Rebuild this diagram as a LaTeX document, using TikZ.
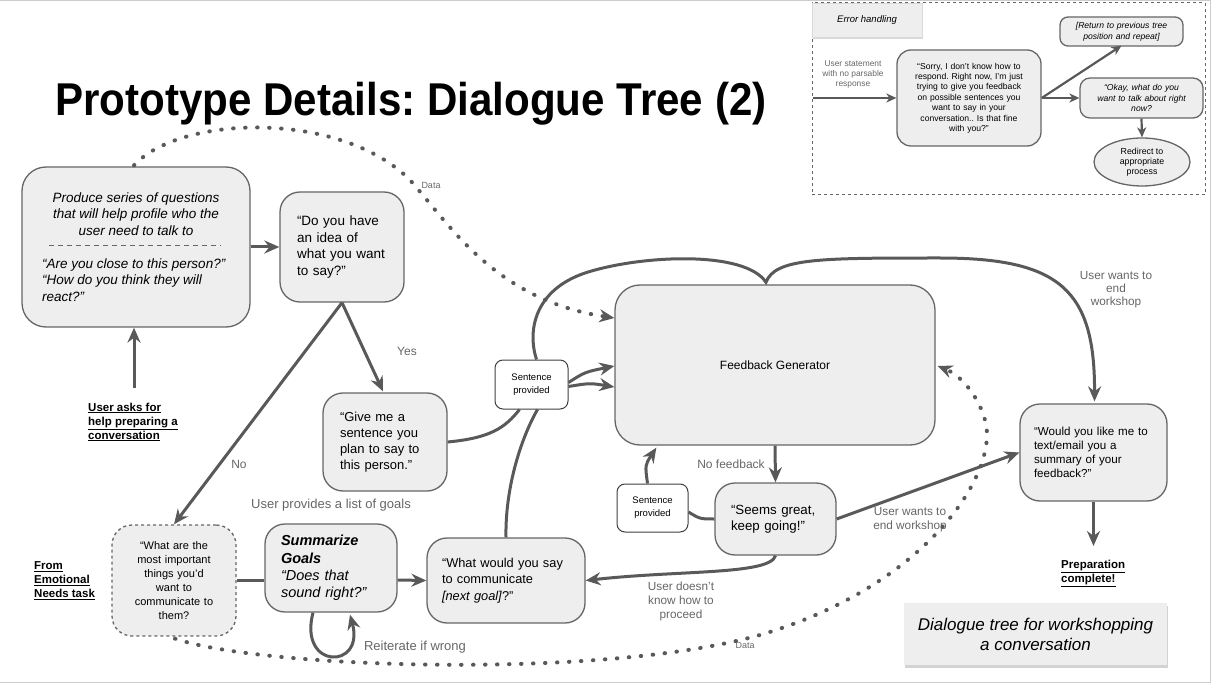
\documentclass[tikz,border=0pt]{standalone}
\usepackage{graphicx}
\usepackage{fontspec}
\setmainfont{Liberation Sans}
\usetikzlibrary{arrows.meta,calc,shapes.geometric,shadows}
\definecolor{boxc}{HTML}{EEEEEE}
\definecolor{bordc}{HTML}{666666}
\definecolor{linec}{HTML}{595959}
\definecolor{labc}{HTML}{666666}
\definecolor{framec}{HTML}{CCCCCC}
\newcommand{\fsz}[2]{\fontsize{#1}{#2}\selectfont}
\frenchspacing
\begin{document}
\begin{tikzpicture}[x=1pt,y=-1pt,
  box/.style={draw=bordc, fill=boxc, line width=1.3pt, rounded corners=20pt, inner ysep=0pt, align=left},
  sbox/.style={draw=black!75, fill=white, line width=1pt, rounded corners=8pt, inner sep=0pt, align=center, font=\fsz{9.5}{13}},
  conn/.style={draw=linec, line width=3pt, -{Stealth[length=15pt,width=13pt,inset=5pt]}},
  sconn/.style={draw=linec, line width=2.2pt, -{Stealth[length=10pt,width=9pt,inset=3pt]}},
  plainline/.style={draw=linec, line width=3pt},
  dots/.style={draw=linec, line width=4pt, line cap=round, dash pattern=on 0.5pt off 11.5pt, -{Stealth[length=15pt,width=13pt,inset=5pt]}},
  glabel/.style={text=labc, align=center, inner sep=1pt},
  ulabel/.style={font=\bfseries\fsz{11.5}{14}, align=left, inner sep=0pt, anchor=west},
]
\useasboundingbox (0,0) rectangle (1212,684);
\draw[framec, line width=1pt] (0,1) -- (1210,1) -- (1210,682) -- (0,682);

% title
\node (title) at (411,104) {\scalebox{0.915}[1]{\bfseries\fsz{46}{46}Prototype Details: Dialogue Tree (2)}};

% error handling panel
\node[draw=bordc, dashed, line width=1pt, minimum width=393pt, minimum height=192pt, inner sep=0pt] (errframe) at (1008.5,99) {};
\node[fill=boxc, draw=black!15, line width=0.5pt, drop shadow={shadow xshift=1pt, shadow yshift=-2pt, opacity=0.3}, minimum width=110pt, minimum height=34pt, inner sep=0pt, font=\itshape\fsz{9.5}{11}] (ehlabel) at (867,20) {Error handling};
\node[glabel, font=\fsz{8.4}{10}] (ustate) at (853,74) {User statement\\with no parsable\\response};
\coordinate (ehstart) at (813,98);
\node[box, rounded corners=14pt, minimum width=144pt, minimum height=96pt, text width=134pt, inner xsep=5pt, align=center, font=\fsz{8.6}{10.4}] (sorry) at (969,98) {“Sorry, I don't know how to\\respond. Right now, I'm just\\trying to give you feedback\\on possible sentences you\\want to say in your\\conversation.. Is that fine\\with you?”};
\node[box, rounded corners=8pt, minimum width=123pt, minimum height=29pt, text width=115pt, inner xsep=4pt, align=center, font=\itshape\fsz{8.6}{11}] (return) at (1121.5,31.5) {[Return to previous tree\\position and repeat]};
\node[box, rounded corners=10pt, minimum width=123pt, minimum height=40pt, text width=115pt, inner xsep=4pt, align=center, font=\itshape\fsz{8.6}{10.5}] (okay) at (1141.5,98) {“Okay, what do you\\want to talk about right\\now?};
\node[ellipse, draw=bordc, fill=boxc, line width=1.3pt, minimum width=96pt, minimum height=48pt, inner sep=0pt, align=center, font=\fsz{8.8}{10}] (redirect) at (1142,162) {Redirect to\\appropriate\\process};
\draw[sconn] (ehstart) -- (sorry.west);
\draw[sconn] (sorry.east) -- ($(return.south)+(0,-1)$);
\draw[sconn] (sorry.east) -- (okay.west);
\draw[sconn] (okay.south) -- (redirect.north);

% main boxes
\node[box, rounded corners=24pt, minimum width=228pt, minimum height=160pt] (prod) at (136,247) {};
\node[align=center, inner sep=0pt, font=\itshape\fsz{13.5}{16.5}] (prodA) at (136,214) {Produce series of questions\\that will help profile who the\\user need to talk to};
\node[align=left, inner sep=0pt, anchor=west, font=\itshape\fsz{13.5}{16.5}] (prodB) at (42,280) {“Are you close to this person?”\\“How do you think they will\\react?”};
\draw[bordc, line width=1pt, dash pattern=on 5pt off 4pt] ($(prod.west)+(28,-1)$) -- ($(prod.east)+(-30,-1)$);

\node[box, minimum width=124pt, minimum height=110pt, text width=90pt, inner xsep=17pt, font=\fsz{13.5}{16.5}] (idea) at (342,247) {“Do you have\\an idea of\\what you want\\to say?”};
\node[box, minimum width=124pt, minimum height=98pt, text width=90pt, inner xsep=17pt, font=\fsz{13}{16}] (give) at (385,442) {“Give me a\\sentence you\\plan to say to\\this person.”};
\node[box, dashed, minimum width=124pt, minimum height=111pt, text width=110pt, inner xsep=7pt, align=center, font=\fsz{11}{14}] (whatare) at (174,580.5) {“What are the\\most important\\things you’d\\want to\\communicate to\\them?};
\node[box, minimum width=132pt, minimum height=88pt, text width=100pt, inner xsep=16pt, font=\fsz{14.5}{17.3}] (summ) at (331,568) {\textbf{\textit{Summarize}}\\\textbf{\textit{Goals}}\\\textit{“Does that}\\\textit{sound right?”}};
\node[box, minimum width=158pt, minimum height=85pt, text width=128pt, inner xsep=15pt, font=\fsz{12.8}{16.5}] (whatsay) at (506,580.5) {“What would you say\\to communicate\\\textit{[next goal]}?”};
\node[sbox, minimum width=73pt, minimum height=49pt] (sp1) at (531.5,384.5) {Sentence\\provided};
\node[box, rounded corners=25pt, minimum width=320pt, minimum height=160pt, align=center, font=\fsz{12}{14}] (FG) at (775,365) {Feedback Generator};
\node[box, minimum width=121pt, minimum height=72pt, text width=89pt, inner xsep=16pt, font=\fsz{13.3}{16}] (seems) at (775.5,519) {“Seems great,\\keep going!”};
\node[sbox, minimum width=71pt, minimum height=48pt] (sp2) at (652.5,508) {Sentence\\provided};
\node[box, minimum width=147pt, minimum height=97pt, text width=119pt, inner xsep=14pt, font=\fsz{11.6}{14}] (wouldyou) at (1093.5,452.5) {“Would you like me to\\text/email you a\\summary of your\\feedback?”};
\node[fill=boxc, drop shadow={shadow xshift=1pt, shadow yshift=-3pt, opacity=0.35}, minimum width=263pt, minimum height=62pt, align=center, inner sep=0pt, font=\itshape\fsz{17}{20}] (caption) at (1035.5,634) {Dialogue tree for workshopping\\a conversation};

% underlined labels
\node[ulabel] (userask) at (88,422) {\underline{User asks for}\\\underline{help preparing a}\\\underline{conversation}};
\node[ulabel] (fromemo) at (34,581) {\underline{From}\\\underline{Emotional}\\\underline{Needs task}};
\node[ulabel] (prep) at (1061,573.5) {\underline{Preparation}\\\underline{complete!}};

% grey labels
\node[glabel, font=\fsz{12}{14}] (yes) at (407,351) {Yes};
\node[glabel, font=\fsz{12}{14}] (no) at (239,464) {No};
\node[glabel, font=\fsz{13}{15}] (goals) at (331,505) {User provides a list of goals};
\node[glabel, font=\fsz{13}{15}] (reit) at (415,647) {Reiterate if wrong};
\node[glabel, font=\fsz{12}{14}] (nofb) at (731,464) {No feedback};
\node[glabel, font=\fsz{11.8}{14}] (endw1) at (910,520) {User wants to\\end workshop};
\node[glabel, font=\fsz{11.8}{14}] (dunno) at (681,601) {User doesn’t\\know how to\\proceed};
\node[glabel, font=\fsz{11.8}{13}] (endw2) at (1116,290) {User wants to\\end\\workshop};
\node[glabel, font=\fsz{9}{10}] (data1) at (431,185) {Data};
\node[glabel, font=\fsz{9}{10}] (data2) at (745,645) {Data};

% connectors
\coordinate (askstart) at (134,388);
\draw[conn] (askstart) -- (askstart |- prod.south);
\draw[conn] (prod.east) -- (idea.west);
\draw[conn] (idea.south) -- ($(give.north)+(-2,-1)$);
\draw[conn] (idea.south) -- (whatare.north);
\draw[plainline] (whatare.east |- 0,580) -- (summ.west |- 0,580);
\draw[conn] (summ.east |- 0,580) -- (whatsay.west);
\draw[conn] ($(summ.south)+(-18,0)$) .. controls (298,670) and (365,670) .. ($(summ.south)+(19,2)$);
\draw[plainline] (give.east) .. controls (490,438) and (505,428) .. ($(sp1.south west)+(25,0)$);
\draw[plainline] (whatsay.north) .. controls (505,490) and (520,440) .. ($(sp1.south)+(6,0)$);
\draw[conn] ($(sp1.east)+(0,-2)$) .. controls (585,372) .. ($(FG.west)+(0,1)$);
\draw[conn] ($(sp1.east)+(0,2)$) .. controls (590,383) .. ($(FG.west)+(0,22)$);
\draw[conn] ($(sp1.north)+(5,0)$) .. controls (527,330) and (535,290) .. (585,273) .. controls (640,255) and (745,250) .. ($(FG.north)+(-9,-2)$) .. controls (775,258) and (820,258) .. (940,258) .. controls (1060,258) and (1095,290) .. ($(wouldyou.north)+(1,-2)$);
\draw[conn] (FG.south) -- (seems.north);
\draw[plainline] (seems.west) .. controls (700,519) .. ($(sp2.east)+(0,4)$);
\draw[conn] ($(sp2.north)+(-5,0)$) .. controls (645,465) .. ($(FG.south west)+(42,2)$);
\draw[conn] (seems.east) -- (wouldyou.west);
\draw[conn] (seems.south) .. controls (770,575) and (680,570) .. (whatsay.east);
\coordinate (prepTop) at (1093.5,546);
\draw[conn] (wouldyou.south) -- (prepTop);

% dotted data flows
\draw[dots] ($(prod.north)+(-2,-1)$) .. controls (180,115) and (340,110) .. (410,180) .. controls (450,225) and (495,300) .. ($(FG.west)+(0,-47)$);
\draw[dots] ($(whatare.south)+(1,2)$) .. controls (260,668) and (600,680) .. (760,635) .. controls (930,585) and (1000,470) .. (985,420) .. controls (978,395) and (960,375) .. ($(FG.east)+(2,1)$);
\end{tikzpicture}
\end{document}
